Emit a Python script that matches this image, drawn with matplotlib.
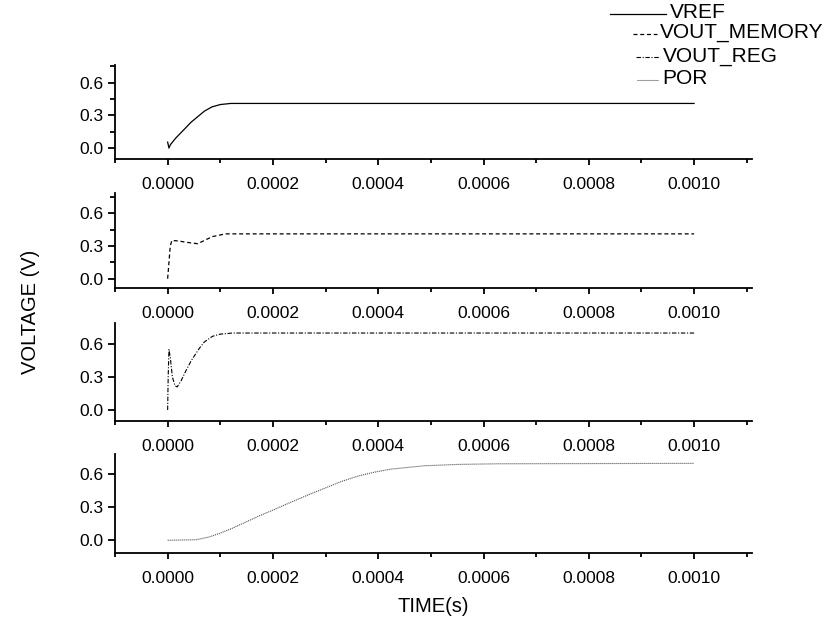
import matplotlib
matplotlib.use("Agg")
import matplotlib.pyplot as plt
from matplotlib.lines import Line2D
from matplotlib.ticker import MultipleLocator, FixedLocator

plt.rcParams['font.family'] = ['Liberation Sans', 'DejaVu Sans']

# Simulated start-up waveforms (time in s, voltage in V)
t_vref = [0, 2.5e-6, 5e-6, 1.5e-5, 2.5e-5, 3.5e-5, 4.5e-5, 6e-5, 7e-5, 8.4e-5,
          1.0e-4, 1.2e-4, 1.0e-3]
v_vref = [0.055, 0.0, 0.03, 0.09, 0.14, 0.19, 0.24, 0.30, 0.34, 0.378,
          0.40, 0.41, 0.41]

t_mem = [0, 2e-6, 5e-6, 8e-6, 2e-5, 4e-5, 5.7e-5, 7e-5, 8.5e-5, 1.0e-4, 1.1e-4, 1.0e-3]
v_mem = [0.0, 0.12, 0.30, 0.35, 0.345, 0.33, 0.32, 0.35, 0.385, 0.40, 0.41, 0.41]

t_reg = [0, 1e-6, 2.5e-6, 5e-6, 9e-6, 1.4e-5, 1.8e-5, 2.5e-5, 3.5e-5, 4.5e-5,
         6e-5, 7e-5, 8.5e-5, 1.0e-4, 1.23e-4, 1.0e-3]
v_reg = [0.0, 0.30, 0.55, 0.48, 0.30, 0.22, 0.21, 0.26, 0.36, 0.45,
         0.56, 0.62, 0.67, 0.69, 0.70, 0.70]

t_por = [0, 5.4e-5, 7.9e-5, 1.0e-4, 1.23e-4, 1.48e-4, 1.73e-4, 2.05e-4, 2.36e-4,
         2.68e-4, 2.99e-4, 3.3e-4, 3.62e-4, 3.93e-4, 4.25e-4, 4.88e-4, 5.5e-4,
         6.26e-4, 1.0e-3]
v_por = [0.0, 0.005, 0.03, 0.065, 0.11, 0.165, 0.22, 0.285, 0.35,
         0.415, 0.475, 0.535, 0.585, 0.62, 0.648, 0.678, 0.69,
         0.696, 0.70]

series_names = ["VREF", "VOUT_MEMORY", "VOUT_REG", "POR"]
x_ticks = [0.0, 0.0002, 0.0004, 0.0006, 0.0008, 0.0010]
x_tick_labels = ["0.0000", "0.0002", "0.0004", "0.0006", "0.0008", "0.0010"]
y_ticks = [0.0, 0.3, 0.6]
y_tick_labels = ["0.0", "0.3", "0.6"]

W, H = 827, 623
fig = plt.figure(figsize=(W / 100, H / 100), dpi=100)

styles = [
    dict(color="black", lw=0.9, ls="-"),
    dict(color="black", lw=0.9, ls=(0, (3.2, 2.2))),
    dict(color="black", lw=0.8, ls=(0, (4, 1.5, 1, 1.5))),
    dict(color="#555555", lw=0.8, ls=(0, (1, 0.8))),
]

# panel geometry in pixels: (top, bottom) of each axes box, and y-limits
left_px, right_px = 115, 752
panels = [
    (65, 159, (-0.1, 0.763), True),
    (193, 288.3, (-0.088, 0.784), True),
    (322.7, 421, (-0.1, 0.794), False),
    (454, 552.7, (-0.113, 0.785), False),
]
data = [(t_vref, v_vref), (t_mem, v_mem), (t_reg, v_reg), (t_por, v_por)]

for (top, bot, ylim, minor_y), (tt, vv), st in zip(panels, data, styles):
    ax = fig.add_axes([left_px / W, 1 - bot / H, (right_px - left_px) / W, (bot - top) / H])
    ax.plot(tt, vv, **st)
    ax.set_xlim(-0.0001, 0.00111)
    ax.set_ylim(*ylim)
    for s in ("top", "right"):
        ax.spines[s].set_visible(False)
    for s in ("left", "bottom"):
        ax.spines[s].set_linewidth(1.3)
    ax.xaxis.set_major_locator(FixedLocator(x_ticks))
    ax.set_xticklabels(x_tick_labels)
    ax.xaxis.set_minor_locator(MultipleLocator(0.0001))
    ax.yaxis.set_major_locator(FixedLocator(y_ticks))
    ax.set_yticklabels(y_tick_labels)
    if minor_y:
        ax.yaxis.set_minor_locator(FixedLocator([0.15, 0.45, 0.75]))
    ax.tick_params(axis="x", which="major", direction="out", length=4.5, width=1.3,
                   pad=8.5, labelsize=12.5)
    ax.tick_params(axis="x", which="minor", direction="out", length=3, width=1.3)
    ax.tick_params(axis="y", which="major", direction="out", length=5, width=1.3,
                   pad=3, labelsize=12.5)
    ax.tick_params(axis="y", which="minor", direction="out", length=3.3, width=1.3)

fig.text(433.5 / W, 1 - 607 / H, "TIME(s)", ha="center", va="center", fontsize=14.5)
fig.text(30 / W, 1 - 312 / H, "VOLTAGE (V)", ha="center", va="center",
         rotation=90, fontsize=14.5)

# legend entries: handle span (x0, x1), y, text x
legend_layout = [
    (610, 666, 14, 670),
    (633, 657, 34, 660),
    (636, 660, 57, 663),
    (637, 658, 80, 662),
]
for name, st, (x0, x1, y, tx) in zip(series_names, styles, legend_layout):
    fig.add_artist(Line2D([x0 / W, x1 / W], [1 - y / H, 1 - y / H],
                          transform=fig.transFigure, **st))
    fig.text(tx / W, 1 - (y - 1) / H, name, ha="left", va="center", fontsize=15)

fig.savefig("out.png", dpi=100)
